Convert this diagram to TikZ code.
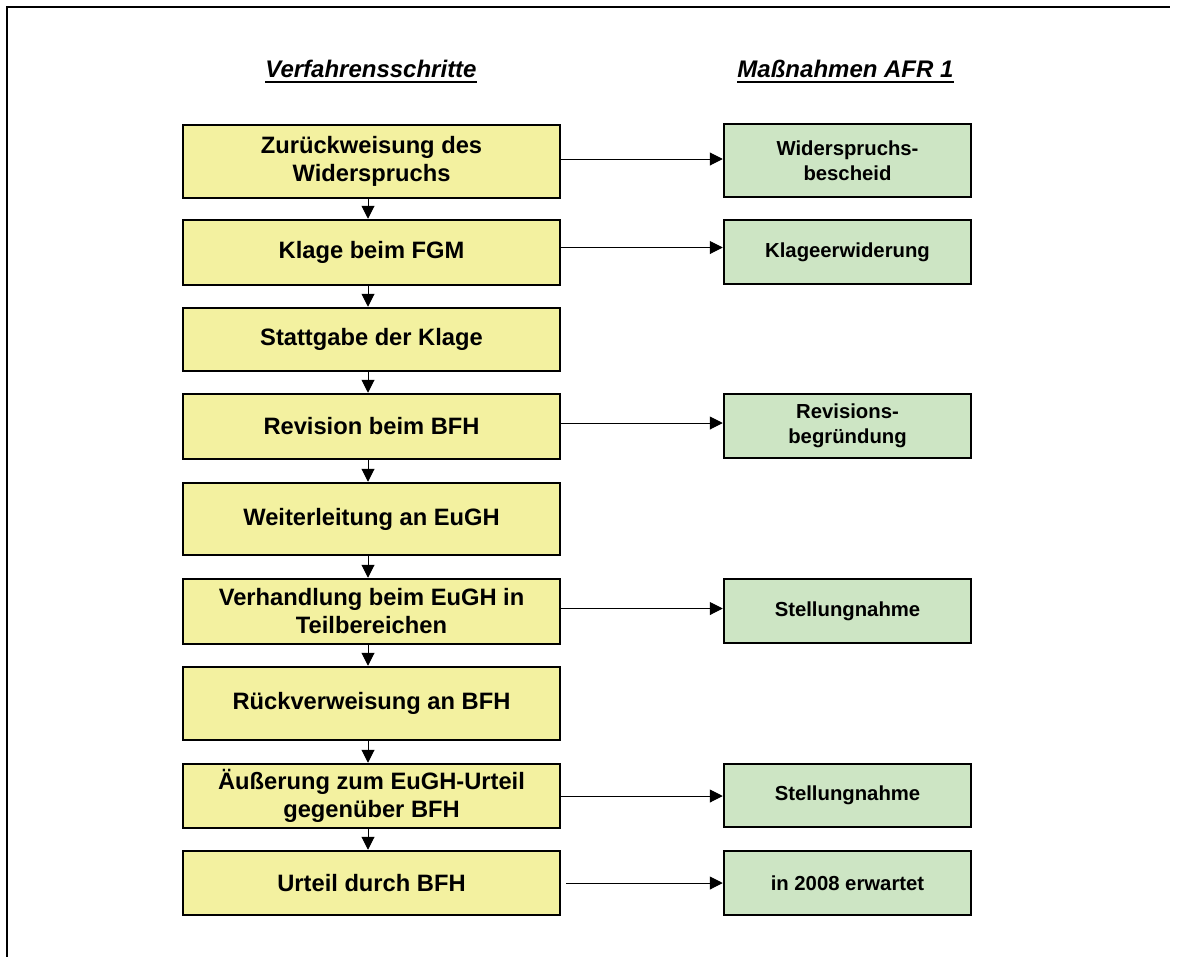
\documentclass[tikz,border=0pt]{standalone}
\usepackage{fontspec}
\setmainfont{Liberation Sans}
\usetikzlibrary{arrows.meta}
\definecolor{ybox}{RGB}{243,241,160}
\definecolor{gbox}{RGB}{205,229,196}
\begin{document}
\begin{tikzpicture}[x=1pt,y=-1pt,
  stepbox/.style={draw, line width=2.5pt, fill=ybox, minimum width=377pt, align=center, inner sep=0pt, font=\fontsize{23.7}{28}\selectfont\bfseries},
  actbox/.style={draw, line width=2.5pt, fill=gbox, minimum width=247pt, align=center, inner sep=0pt, font=\fontsize{20.3}{25}\selectfont\bfseries},
  hdr/.style={inner sep=0pt, font=\fontsize{24}{28}\selectfont\bfseries\itshape, anchor=base},
  flow/.style={line width=1pt, -{Triangle[width=13pt,length=13pt]}},
]
\useasboundingbox (0,0) rectangle (1177,956);
\fill[white] (0,0) rectangle (1177,956);
\draw[line width=2pt] (7,960) -- (7,7) -- (1170,7);

% headers
\node[hdr] (h1) at (371,77) {Verfahrensschritte};
\node[hdr] (h2) at (845.5,77) {Maßnahmen AFR 1};
\draw[line width=2pt] ([yshift=-5pt]h1.base west) -- ([yshift=-5pt]h1.base east);
\draw[line width=2pt] ([yshift=-5pt]h2.base west) -- ([yshift=-5pt]h2.base east);

% steps
\node[stepbox, minimum height=73pt] (y1) at (371.5,161.5) {Zurückweisung des\\Widerspruchs};
\node[stepbox, minimum height=65pt] (y2) at (371.5,252.5) {Klage beim FGM};
\node[stepbox, minimum height=63pt] (y3) at (371.5,339.5) {Stattgabe der Klage};
\node[stepbox, minimum height=65pt] (y4) at (371.5,426.5) {Revision beim BFH};
\node[stepbox, minimum height=72pt] (y5) at (371.5,519) {Weiterleitung an EuGH};
\node[stepbox, minimum height=65pt] (y6) at (371.5,611.5) {Verhandlung beim EuGH in\\Teilbereichen};
\node[stepbox, minimum height=73pt] (y7) at (371.5,703.5) {Rückverweisung an BFH};
\node[stepbox, minimum height=64pt] (y8) at (371.5,796) {Äußerung zum EuGH-Urteil\\gegenüber BFH};
\node[stepbox, minimum height=64pt] (y9) at (371.5,883) {Urteil durch BFH};

% measures
\node[actbox, minimum height=73pt] (g1) at (847.5,160.5) {Widerspruchs-\\bescheid};
\node[actbox, minimum height=64pt] (g2) at (847.5,252) {Klageerwiderung};
\node[actbox, minimum height=64pt] (g4) at (847.5,426) {Revisions-\\begründung};
\node[actbox, minimum height=64pt] (g6) at (847.5,611) {Stellungnahme};
\node[actbox, minimum height=63pt] (g8) at (847.5,795.5) {Stellungnahme};
\node[actbox, minimum height=64pt] (g9) at (847.5,883) {in 2008 erwartet};

% vertical flow
\foreach \a/\b in {y1/y2,y2/y3,y3/y4,y4/y5,y5/y6,y6/y7,y7/y8,y8/y9}
  \draw[flow] ([xshift=-3.5pt]\a.south) -- ([xshift=-3.5pt]\b.north);

% horizontal flow
\draw[flow] ([yshift=2.5pt]y1.east) -- ([yshift=2.5pt]y1.east -| g1.west);
\draw[flow] ([yshift=5pt]y2.east) -- ([yshift=5pt]y2.east -| g2.west);
\draw[flow] ([yshift=3.5pt]y4.east) -- ([yshift=3.5pt]y4.east -| g4.west);
\draw[flow] ([yshift=3pt]y6.east) -- ([yshift=3pt]y6.east -| g6.west);
\draw[flow] (y8.east) -- (y8.east -| g8.west);
\draw[flow] ([xshift=5pt]y9.east) -- (y9.east -| g9.west);
\end{tikzpicture}
\end{document}
